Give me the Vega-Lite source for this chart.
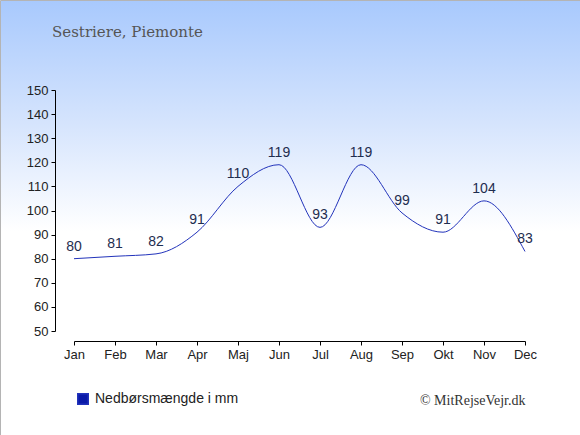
{
  "$schema": "https://vega.github.io/schema/vega-lite/v6.json",
  "width": 580,
  "height": 435,
  "autosize": "none",
  "padding": 0,
  "title": {
    "text": "Sestriere, Piemonte",
    "anchor": "start",
    "frame": "group",
    "offset": 0,
    "dx": 52,
    "dy": 52,
    "baseline": "alphabetic",
    "font": "DejaVu Serif",
    "fontSize": 15,
    "fontWeight": "normal",
    "color": "#555555"
  },
  "data": {
    "values": [
      {"maaned": "Jan", "mm": 80},
      {"maaned": "Feb", "mm": 81},
      {"maaned": "Mar", "mm": 82},
      {"maaned": "Apr", "mm": 91},
      {"maaned": "Maj", "mm": 110},
      {"maaned": "Jun", "mm": 119},
      {"maaned": "Jul", "mm": 93},
      {"maaned": "Aug", "mm": 119},
      {"maaned": "Sep", "mm": 99},
      {"maaned": "Okt", "mm": 91},
      {"maaned": "Nov", "mm": 104},
      {"maaned": "Dec", "mm": 83}
    ]
  },
  "encoding": {
    "x": {
      "field": "maaned",
      "type": "ordinal",
      "sort": null,
      "scale": {"type": "point", "range": [74, 525], "padding": 0},
      "axis": {
        "orient": "bottom",
        "offset": -94,
        "labelAngle": 0,
        "labelFont": "Liberation Sans",
        "labelFontSize": 13,
        "labelColor": "#222222",
        "labelPadding": 3,
        "domainColor": "#000000",
        "tickColor": "#000000",
        "tickSize": 4,
        "grid": false,
        "title": "© MitRejseVejr.dk",
        "titleFont": "Liberation Serif",
        "titleFontSize": 14,
        "titleFontWeight": "normal",
        "titleColor": "#333333",
        "titleAnchor": "end",
        "titleBaseline": "alphabetic",
        "titleY": 63
      }
    },
    "y": {
      "field": "mm",
      "type": "quantitative",
      "scale": {"domain": [50, 150], "range": [331, 90], "zero": false, "nice": false},
      "axis": {
        "orient": "left",
        "offset": -55,
        "values": [50, 60, 70, 80, 90, 100, 110, 120, 130, 140, 150],
        "labelFont": "Liberation Sans",
        "labelFontSize": 13,
        "labelColor": "#222222",
        "labelPadding": 3,
        "domainColor": "#000000",
        "tickColor": "#000000",
        "tickSize": 4,
        "grid": false,
        "title": null
      }
    }
  },
  "layer": [
    {
      "mark": {"type": "line", "interpolate": "monotone", "strokeWidth": 1},
      "encoding": {
        "color": {
          "datum": "Nedbørsmængde i mm",
          "scale": {"range": ["#2233bb"]},
          "legend": {
            "orient": "none",
            "legendX": 76,
            "legendY": 392,
            "title": null,
            "padding": 0,
            "symbolType": "square",
            "symbolSize": 110,
            "labelFont": "Liberation Sans",
            "labelFontSize": 14,
            "labelColor": "#222222",
            "labelOffset": 5,
            "encode": {
              "symbols": {
                "update": {
                  "fill": {"value": "#0a1aa8"},
                  "stroke": {"value": "transparent"}
                }
              }
            }
          }
        }
      }
    },
    {
      "mark": {
        "type": "text",
        "dy": -8,
        "baseline": "alphabetic",
        "font": "Liberation Sans",
        "fontSize": 14,
        "color": "#1e2d4f"
      },
      "encoding": {"text": {"field": "mm", "type": "quantitative"}}
    }
  ],
  "config": {
    "background": "#ffffff",
    "view": {
      "fill": {
        "gradient": "linear",
        "x1": 0, "y1": 0, "x2": 0, "y2": 1,
        "stops": [
          {"offset": 0, "color": "#a8c9fd"},
          {"offset": 0.28, "color": "#d5e4fd"},
          {"offset": 0.53, "color": "#ffffff"},
          {"offset": 1, "color": "#ffffff"}
        ]
      },
      "stroke": "#b4b4b4",
      "strokeWidth": 1
    }
  }
}
